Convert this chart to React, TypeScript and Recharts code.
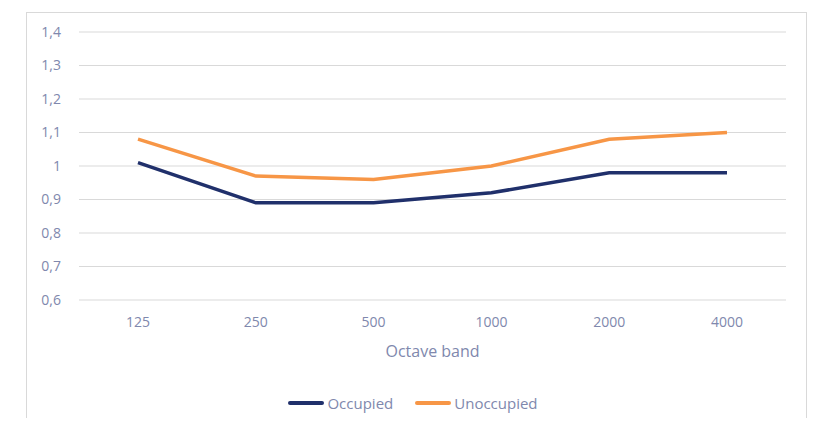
import React from 'react';
import { LineChart, Line, XAxis, YAxis, CartesianGrid, Legend } from 'recharts';

const bands = ['125', '250', '500', '1000', '2000', '4000'];
const occupied = [1.01, 0.89, 0.89, 0.92, 0.98, 0.98];
const unoccupied = [1.08, 0.97, 0.96, 1.0, 1.08, 1.1];
const yTicks = [0.6, 0.7, 0.8, 0.9, 1.0, 1.1, 1.2, 1.3, 1.4];

const data = bands.map((band, i) => ({
  band,
  Occupied: occupied[i],
  Unoccupied: unoccupied[i],
}));

const textColor = '#8088ad';
const font = '"Open Sans", "Noto Sans", sans-serif';

const fmt = (v: number) => String(Math.round(v * 10) / 10).replace('.', ',');

function LegendContent({ payload }: any) {
  return (
    <div style={{ display: 'flex', justifyContent: 'center', gap: 22, paddingLeft: 40, fontFamily: font, fontSize: 15, color: textColor }}>
      {(payload || []).map((p: any) => (
        <div key={p.value} style={{ display: 'flex', alignItems: 'center' }}>
          <span style={{ display: 'inline-block', width: 36, height: 4, borderRadius: 2, background: p.color, marginRight: 3 }} />
          <span>{p.value}</span>
        </div>
      ))}
    </div>
  );
}

export default function App() {
  return (
    <div style={{ position: 'relative', width: 817, height: 426, margin: -8, overflow: 'hidden', background: '#fff' }}>
      <div
        style={{
          position: 'absolute',
          left: 26,
          top: 12,
          width: 779,
          height: 440,
          border: '1px solid #d9d9d9',
        }}
      />
      <div style={{ position: 'absolute', left: 0, top: 0 }}>
        <LineChart width={817} height={426} data={data} margin={{ top: 32, right: 31, left: 0, bottom: 0 }}>
          <CartesianGrid vertical={false} stroke="#d9d9d9" />
          <XAxis
            dataKey="band"
            axisLine={false}
            tickLine={false}
            tickMargin={11}
            height={93}
            padding={{ left: 59, right: 59 }}
            tick={{ fill: textColor, fontSize: 14, fontFamily: font }}
            label={{ value: 'Octave band', position: 'insideTop', offset: 46, fill: textColor, fontSize: 16, fontFamily: font }}
          />
          <YAxis
            domain={[0.6, 1.4]}
            ticks={yTicks}
            tickFormatter={fmt}
            axisLine={false}
            tickLine={false}
            tickMargin={12}
            width={79}
            tick={{ fill: textColor, fontSize: 14, fontFamily: font }}
          />
          <Legend verticalAlign="bottom" height={33} content={<LegendContent />} />
          <Line dataKey="Occupied" stroke="#20306b" strokeWidth={3.5} dot={false} isAnimationActive={false} />
          <Line dataKey="Unoccupied" stroke="#f79646" strokeWidth={3.5} dot={false} isAnimationActive={false} />
        </LineChart>
      </div>
    </div>
  );
}
